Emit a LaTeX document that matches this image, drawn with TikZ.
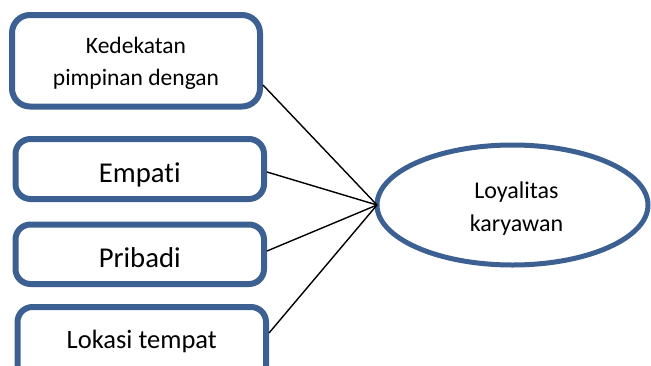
\documentclass[tikz,border=0pt]{standalone}
\usepackage{fontspec}
\setmainfont[Ligatures=NoCommon]{Carlito}
\usetikzlibrary{shapes.geometric}
\definecolor{boxblue}{RGB}{60,96,145}
\begin{document}
\begin{tikzpicture}[x=1pt,y=-1pt,
  box/.style={draw=boxblue,line width=6pt,rounded corners=15pt,inner sep=0pt,text depth=0pt},
  conn/.style={draw=black,line width=1.4pt}]
\useasboundingbox (0,0) rectangle (651,365);
\clip (0,0) rectangle (651,365);
\node[box,rounded corners=18pt,minimum width=248pt,minimum height=91.5pt,align=center,
  text height=49pt,font=\fontsize{23.5}{32}\selectfont] (b1) at (136,60.75) {Kedekatan\\pimpinan dengan};
\node[box,minimum width=248.5pt,minimum height=60pt,text height=26pt,
  font=\fontsize{28.7}{34}\selectfont] (b2) at (139.75,169) {Empati};
\node[box,minimum width=248.5pt,minimum height=59.5pt,text height=25.5pt,
  font=\fontsize{28.7}{34}\selectfont] (b3) at (139.75,254.25) {Pribadi};
\node[box,minimum width=248.5pt,minimum height=76pt,text height=6pt,
  font=\fontsize{26.5}{32}\selectfont] (b4) at (141.75,345) {Lokasi tempat};
\node[ellipse,draw=boxblue,line width=5pt,inner sep=0pt,outer sep=0pt,
  minimum width=271pt,minimum height=120pt,align=center,text height=52pt,text depth=0pt,
  font=\fontsize{24}{33}\selectfont] (el) at (512.5,205)
  {\hspace*{8pt}Loyalitas\\\hspace*{8pt}karyawan};
\draw[conn] (b1.east |- 0,85) -- (el.west);
\draw[conn] (b2.east |- 0,172) -- (el.west);
\draw[conn] (b3.east |- 0,251) -- (el.west);
\draw[conn] (b4.east |- 0,333) -- (el.west);
\end{tikzpicture}
\end{document}
